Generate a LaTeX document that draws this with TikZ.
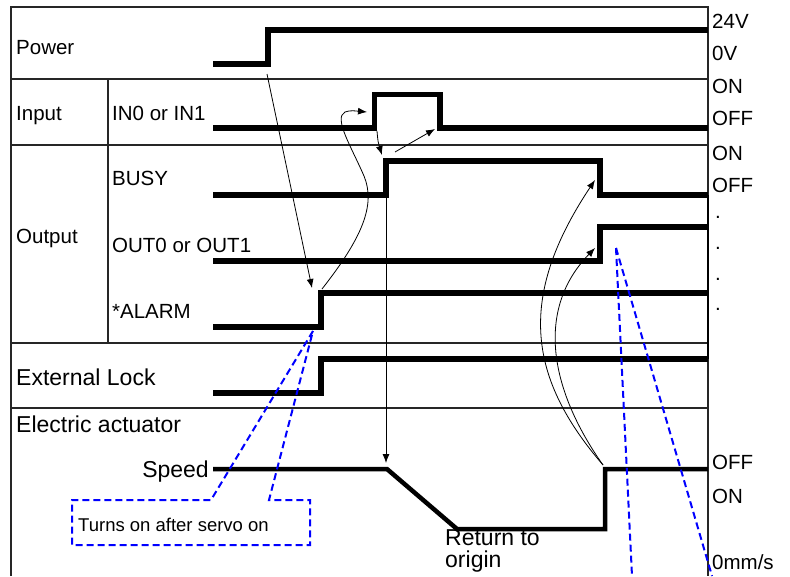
\documentclass[tikz,border=0pt]{standalone}
\usepackage{fontspec}
\setmainfont{Liberation Sans}
\usetikzlibrary{arrows.meta}

\begin{document}
\begin{tikzpicture}[
  x=1pt, y=-1pt,
  frame/.style={line width=1.3pt, black!85},
  sig/.style={line width=5.5pt},
  arr/.style={-{Latex[length=9pt, width=7pt]}, line width=0.8pt},
  note/.style={blue, line width=2pt, dash pattern=on 7pt off 4pt},
  lbl/.style={anchor=base west, inner sep=0pt, font=\fontsize{20.5}{24}\selectfont},
  big/.style={anchor=base west, inner sep=0pt, font=\fontsize{23}{29}\selectfont},
  small/.style={anchor=base west, inner sep=0pt, font=\fontsize{18.5}{22}\selectfont}
]
\useasboundingbox (0,0) rectangle (790,576);
\clip (0,0) rectangle (790,576);

% table frame
\draw[frame] (11,576) -- (11,7) -- (708,7) -- (708,576);
\draw[frame] (11,79) -- (708,79);
\draw[frame] (11,145) -- (708,145);
\draw[frame] (11,343) -- (708,343);
\draw[frame] (11,408) -- (708,408);
\draw[frame] (108,79) -- (108,343);
\draw[line width=2.4pt] (708,195) -- (708,359);

% row labels
\node[lbl] (power) at (16,54) {Power};
\node[lbl] (input) at (16,120) {Input};
\node[lbl] (output) at (16,243) {Output};
\node[big] (extlock) at (16,385) {External Lock};
\node[big] (actuator) at (16,432) {Electric actuator};
\node[lbl] (in01) at (112,120) {IN0 or IN1};
\node[lbl] (busy) at (112,185) {BUSY};
\node[lbl] (out01) at (112,252) {OUT0 or OUT1};
\node[lbl] (alarm) at (112,318) {*ALARM};
\node[big, anchor=base east] (speed) at (209,477) {Speed};

% level labels
\node[lbl] (v24) at (712,28) {24V};
\node[lbl] (v0) at (712,60) {0V};
\node[lbl] (inon) at (712,93) {ON};
\node[lbl] (inoff) at (712,125) {OFF};
\node[lbl] (outon) at (712,160) {ON};
\node[lbl] (outoff) at (712,192) {OFF};
\foreach \y in {218,249,280,310}
  \node[lbl] at (715,\y) {.};
\node[lbl] (spoff) at (712,469) {OFF};
\node[lbl] (spon) at (712,503) {ON};
\node[lbl] (zero) at (712,569) {0mm/s};
\node[big, align=left, anchor=north west, font=\fontsize{23}{22}\selectfont]
  (origin) at (445,529) {Return to\\origin};

% signals
\draw[sig] (213,64) -- (268,64) -- (268,30) -- (708,30);
\draw[sig] (213,128) -- (374.5,128) -- (374.5,94.5) -- (440,94.5) -- (440,128) -- (708,128);
\draw[sig] (213,195) -- (386,195) -- (386,161) -- (600,161) -- (600,195) -- (708,195);
\draw[sig] (213,261) -- (600,261) -- (600,227) -- (708,227);
\draw[sig] (213,327) -- (321,327) -- (321,293) -- (708,293);
\draw[sig] (213,393) -- (321,393) -- (321,359) -- (708,359);
\draw[sig, line width=4.5pt] (213,469) -- (387,469) -- (457,529) -- (605,529) -- (605,469) -- (708,469);

% timing points
\coordinate (pwron) at (267,74);
\coordinate (alarmon) at (312,288);
\coordinate (alarmfoot) at (322,289);
\coordinate (inon) at (367,112);
\coordinate (inrise) at (377,131);
\coordinate (busyon) at (382,155);
\coordinate (busytop) at (395,152);
\coordinate (inoffpt) at (435,129);
\coordinate (busyline) at (386,198);
\coordinate (spstart) at (386,463);
\coordinate (spend) at (603,465);
\coordinate (busyoff) at (595,180);
\coordinate (outon) at (595,248);

% causal arrows
\draw[arr] (pwron) -- (alarmon);
\draw[arr] (alarmfoot) .. controls (362,238) and (376,205) .. (364,176)
  .. controls (352,148) and (333,118) .. (345,112)
  .. controls (350,110) and (356,111) .. (inon);
\draw[arr] (inrise) .. controls (378,142) .. (busyon);
\draw[arr] (busytop) -- (inoffpt);
\draw[arr] (busyline) -- (spstart);
\draw[arr] (spend) .. controls (530,380) and (515,300) .. (busyoff);
\draw[arr] (spend) .. controls (550,390) and (535,310) .. (outon);

% callouts
\coordinate (servo) at (313,331);
\coordinate (outtip) at (616,248);
\draw[note] (servo) -- (211,500) -- (72,500) -- (72,545) -- (310,545) -- (310,500) -- (269,500) -- (servo);
\node[small] (servonote) at (78,531) {Turns on after servo on};
\draw[note] (outtip) -- (632,576);
\draw[note] (outtip) -- (712,576);

\end{tikzpicture}
\end{document}
